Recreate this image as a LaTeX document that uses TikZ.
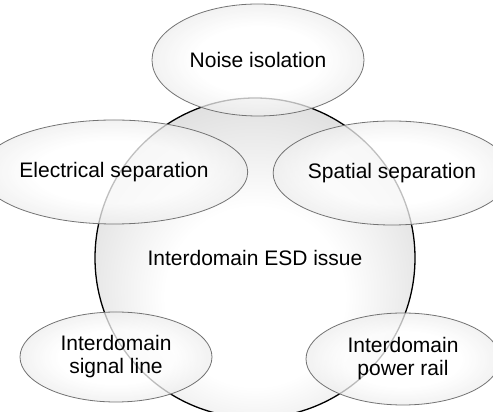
\documentclass[tikz,border=0pt]{standalone}
\usepackage{fontspec}
\setsansfont{Liberation Sans}
\usetikzlibrary{shapes.geometric}
\pgfdeclareradialshading{esdglow}{\pgfpoint{0bp}{-8bp}}{color(0bp)=(white); color(14bp)=(white); color(58bp)=(black!36)}
\pgfdeclareradialshading{issueglow}{\pgfpoint{0bp}{0bp}}{color(0bp)=(white); color(15bp)=(white); color(50bp)=(black!24)}

\begin{document}
\begin{tikzpicture}[x=1pt, y=1pt,
    every node/.style={font=\sffamily\fontsize{21}{23}\selectfont, align=center, inner sep=0pt},
    issue/.style={ellipse, draw=black!55, line width=.8pt, shading=issueglow,
      fill opacity=.75, text opacity=1},
    core/.style={circle, draw=black, line width=1.3pt, shading=esdglow, minimum size=320pt}]
      \useasboundingbox (0, 0) rectangle (493, 412);
      % centre
      \node[core] (esd) at (255, 154) {Interdomain ESD issue};
      % around
      \node[issue, minimum width=212pt, minimum height=112pt] (noise) at (258, 352) {Noise isolation};
      \node[issue, minimum width=220pt, minimum height=104pt] (elec) at (114, 240) {Electrical separation};
      \node[issue, minimum width=204pt, minimum height=104pt] (spat) at (392, 239) {Spatial separation};
      \node[issue, minimum width=192pt, minimum height=90pt] (sig) at (116, 55) {Interdomain\\signal line};
      \node[issue, minimum width=194pt, minimum height=92pt] (pow) at (403, 53) {Interdomain\\power rail};
    \end{tikzpicture}
\end{document}
